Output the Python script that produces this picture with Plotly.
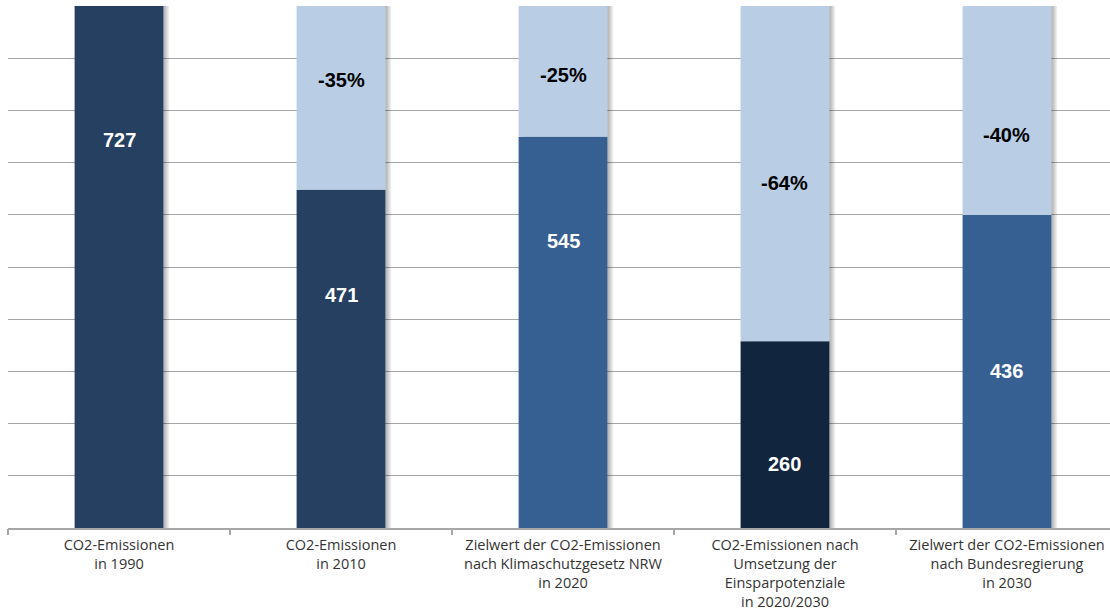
import plotly.graph_objects as go

categories = [
    "CO2-Emissionen<br>in 1990",
    "CO2-Emissionen<br>in 2010",
    "Zielwert der CO2-Emissionen<br>nach Klimaschutzgesetz NRW<br>in 2020",
    "CO2-Emissionen nach<br>Umsetzung der<br>Einsparpotenziale<br>in 2020/2030",
    "Zielwert der CO2-Emissionen<br>nach Bundesregierung<br>in 2030",
]
emissions = [727, 471, 545, 260, 436]
reduction = [0, 256, 182, 467, 291]
reduction_labels = ["", "-35%", "-25%", "-64%", "-40%"]
bar_colors = ["#254061", "#254061", "#376092", "#12253F", "#376092"]
light_color = "#B9CDE5"

# label positions (data units) for the value / percentage annotations
value_label_y = [540, 325, 400, 89, 219]
pct_label_y = [None, 624, 631, 480, 547]

x_idx = list(range(len(categories)))
totals = [e + r for e, r in zip(emissions, reduction)]

fig = go.Figure()

# soft shadow on the right of each bar
for off, alpha in [(0.010, 0.10), (0.018, 0.10), (0.026, 0.08)]:
    fig.add_trace(go.Bar(
        x=x_idx, y=totals, width=0.4, offset=-0.2 + off,
        marker=dict(color=f"rgba(0,0,0,{alpha})", line=dict(width=0)),
        hoverinfo="skip", showlegend=False,
    ))

fig.add_trace(go.Bar(
    x=x_idx, y=emissions, width=0.4, offset=-0.2,
    marker=dict(color=bar_colors, line=dict(width=0)),
    showlegend=False,
))
fig.add_trace(go.Bar(
    x=x_idx, y=reduction, base=emissions, width=0.4, offset=-0.2,
    marker=dict(color=light_color, line=dict(width=0)),
    showlegend=False,
))

for i, (v, ly) in enumerate(zip(emissions, value_label_y)):
    fig.add_annotation(x=i, y=ly, text=f"<b>{v}</b>", showarrow=False,
                       font=dict(family="Liberation Sans, Arial", size=20, color="white"))
for i, (t, ly) in enumerate(zip(reduction_labels, pct_label_y)):
    if t:
        fig.add_annotation(x=i, y=ly, text=f"<b>{t}</b>", showarrow=False,
                           font=dict(family="Liberation Sans, Arial", size=20, color="black"))

grid_vals = [727 * k / 10 for k in range(11)]

fig.update_layout(
    width=1110, height=616,
    margin=dict(l=8, r=0, t=6, b=88, autoexpand=False),
    plot_bgcolor="white", paper_bgcolor="white",
    barmode="overlay",
    font=dict(family="Open Sans, Liberation Sans, Arial", size=14.5, color="#333333"),
    xaxis=dict(
        tickmode="array", tickvals=x_idx, ticktext=categories,
        range=[-0.5, 4.464], automargin=False, ticklabeloverflow="allow",
        showgrid=False, zeroline=False,
        showline=True, linecolor="#a6a6a6", linewidth=1.5,
        ticks="outside", ticklen=3, tickcolor="rgba(0,0,0,0)",
        tickfont=dict(family="Open Sans, Liberation Sans, Arial", size=14.5, color="#333333"),
    ),
    yaxis=dict(
        range=[0, 727], tickmode="array", tickvals=grid_vals, automargin=False,
        showticklabels=False, showgrid=True, gridcolor="#a6a6a6", gridwidth=1.2,
        zeroline=False, showline=False,
    ),
)

# category boundary ticks on the x axis
fig.update_layout(xaxis2=dict(
    overlaying="x", anchor="y", matches="x", automargin=False,
    tickmode="array", tickvals=[i - 0.5 for i in range(len(categories) + 1)],
    ticktext=[""] * (len(categories) + 1),
    ticks="outside", ticklen=6, tickcolor="#a6a6a6", tickwidth=1.5,
    showgrid=False, zeroline=False, showline=False,
))
fig.add_trace(go.Scatter(x=[], y=[], xaxis="x2", showlegend=False))

fig.write_html("out.html", config={"displayModeBar": False},
               post_script="document.body.style.margin='0';")
